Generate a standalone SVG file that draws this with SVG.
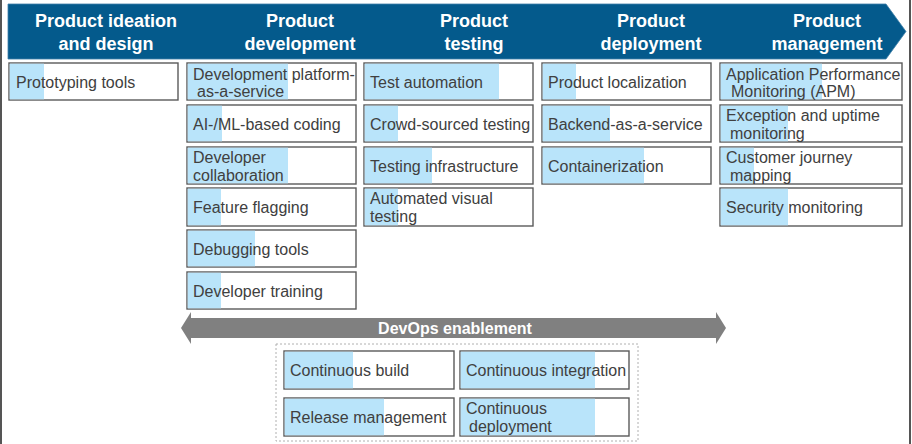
<svg xmlns="http://www.w3.org/2000/svg" width="912" height="444" viewBox="0 0 912 444">
<style>
.hd{font-family:"Liberation Sans",Arial,sans-serif;font-size:18px;font-weight:bold;fill:#ffffff;text-anchor:middle}
.bx{fill:#ffffff;stroke:#5a5a5a;stroke-width:1.4}
.bl{fill:#b9e4fa}
.t{font-family:"Liberation Sans",Arial,sans-serif;font-size:16px;fill:#404040}
.dv{font-family:"Liberation Sans",Arial,sans-serif;font-size:16px;font-weight:bold;fill:#ffffff;text-anchor:middle}
.frame{stroke:#555555;stroke-width:2}
</style>
<rect x="0" y="0" width="912" height="444" fill="#ffffff"/>
<line class="frame" x1="1" y1="0" x2="1" y2="444"/>
<line class="frame" x1="910" y1="0" x2="910" y2="444"/>

<g id="header">
<path d="M8,4 L886,4 L906,31.5 L886,59 L8,59 Z" fill="#045a8c" stroke="#3f7fa8" stroke-width="0.8"/>
<text class="hd" x="106" y="27">Product ideation</text><text class="hd" x="106" y="50">and design</text>
<text class="hd" x="300" y="27">Product</text><text class="hd" x="300" y="50">development</text>
<text class="hd" x="474" y="27">Product</text><text class="hd" x="474" y="50">testing</text>
<text class="hd" x="651" y="27">Product</text><text class="hd" x="651" y="50">deployment</text>
<text class="hd" x="827" y="27">Product</text><text class="hd" x="827" y="50">management</text>
</g>

<!-- Column 1 -->
<g id="prototyping-tools"><rect class="bx" x="9" y="63" width="169" height="37"/><rect class="bl" x="9.7" y="63.7" width="34.3" height="35.6"/><text class="t" x="16" y="88">Prototyping tools</text></g>

<!-- Column 2 -->
<g id="dev-paas"><rect class="bx" x="187" y="63" width="169" height="37"/><rect class="bl" x="187.7" y="63.7" width="100.3" height="35.6"/><text class="t" x="193" y="80">Development platform-</text><text class="t" x="197" y="97">as-a-service</text></g>
<g id="ai-ml-coding"><rect class="bx" x="187" y="105" width="169" height="37"/><rect class="bl" x="187.7" y="105.7" width="34.3" height="35.6"/><text class="t" x="193" y="130">AI-/ML-based coding</text></g>
<g id="dev-collab"><rect class="bx" x="187" y="147" width="169" height="37"/><rect class="bl" x="187.7" y="147.7" width="100.3" height="35.6"/><text class="t" x="193" y="163">Developer</text><text class="t" x="193" y="181">collaboration</text></g>
<g id="feature-flagging"><rect class="bx" x="187" y="188" width="169" height="38"/><rect class="bl" x="187.7" y="188.7" width="33.3" height="36.6"/><text class="t" x="193" y="213">Feature flagging</text></g>
<g id="debugging-tools"><rect class="bx" x="187" y="230" width="169" height="37"/><rect class="bl" x="187.7" y="230.7" width="67.3" height="35.6"/><text class="t" x="193" y="255">Debugging tools</text></g>
<g id="dev-training"><rect class="bx" x="187" y="272" width="169" height="37"/><rect class="bl" x="187.7" y="272.7" width="33.3" height="35.6"/><text class="t" x="193" y="297">Developer training</text></g>

<!-- Column 3 -->
<g id="test-automation"><rect class="bx" x="364" y="63" width="169" height="37"/><rect class="bl" x="364.7" y="63.7" width="134.3" height="35.6"/><text class="t" x="370" y="88">Test automation</text></g>
<g id="crowd-testing"><rect class="bx" x="364" y="105" width="169" height="37"/><rect class="bl" x="364.7" y="105.7" width="33.3" height="35.6"/><text class="t" x="370" y="130">Crowd-sourced testing</text></g>
<g id="testing-infra"><rect class="bx" x="364" y="147" width="169" height="37"/><rect class="bl" x="364.7" y="147.7" width="67.3" height="35.6"/><text class="t" x="370" y="172">Testing infrastructure</text></g>
<g id="visual-testing"><rect class="bx" x="364" y="188" width="169" height="38"/><rect class="bl" x="364.7" y="188.7" width="33.3" height="36.6"/><text class="t" x="370" y="204">Automated visual</text><text class="t" x="370" y="222">testing</text></g>

<!-- Column 4 -->
<g id="localization"><rect class="bx" x="542" y="63" width="169" height="37"/><rect class="bl" x="542.7" y="63.7" width="33.3" height="35.6"/><text class="t" x="548" y="88">Product localization</text></g>
<g id="baas"><rect class="bx" x="542" y="105" width="169" height="37"/><rect class="bl" x="542.7" y="105.7" width="67.3" height="35.6"/><text class="t" x="548" y="130">Backend-as-a-service</text></g>
<g id="containerization"><rect class="bx" x="542" y="147" width="169" height="37"/><rect class="bl" x="542.7" y="147.7" width="101.3" height="35.6"/><text class="t" x="548" y="172">Containerization</text></g>

<!-- Column 5 -->
<g id="apm"><rect class="bx" x="720" y="63" width="182" height="37"/><rect class="bl" x="720.7" y="63.7" width="101.3" height="35.6"/><text class="t" x="726" y="80">Application Performance</text><text class="t" x="731" y="97">Monitoring (APM)</text></g>
<g id="exception-monitoring"><rect class="bx" x="720" y="105" width="182" height="37"/><rect class="bl" x="720.7" y="105.7" width="67.3" height="35.6"/><text class="t" x="726" y="121">Exception and uptime</text><text class="t" x="730" y="139">monitoring</text></g>
<g id="customer-journey"><rect class="bx" x="720" y="147" width="182" height="37"/><rect class="bl" x="720.7" y="147.7" width="33.3" height="35.6"/><text class="t" x="726" y="163">Customer journey</text><text class="t" x="730" y="181">mapping</text></g>
<g id="security-monitoring"><rect class="bx" x="720" y="188" width="182" height="38"/><rect class="bl" x="720.7" y="188.7" width="67.3" height="36.6"/><text class="t" x="726" y="213">Security monitoring</text></g>

<!-- DevOps -->
<g id="connectors">
<path d="M181,328 L191,312 L191,318 L716,318 L716,312 L726,328 L716,344 L716,338 L191,338 L191,344 Z" fill="#808080"/>
</g>
<g id="devops-label"><text class="dv" x="455" y="334">DevOps enablement</text></g>

<g id="devops-group">
<rect x="276" y="344" width="362" height="97" fill="none" stroke="#b0b0b0" stroke-width="1" stroke-dasharray="2,2"/>
</g>
<g id="continuous-build"><rect class="bx" x="284" y="351" width="170" height="38"/><rect class="bl" x="284.7" y="351.7" width="68.3" height="36.6"/><text class="t" x="290" y="376">Continuous build</text></g>
<g id="continuous-integration"><rect class="bx" x="460" y="351" width="169" height="38"/><rect class="bl" x="460.7" y="351.7" width="134.3" height="36.6"/><text class="t" x="466" y="376">Continuous integration</text></g>
<g id="release-management"><rect class="bx" x="284" y="398" width="170" height="38"/><rect class="bl" x="284.7" y="398.7" width="99.3" height="36.6"/><text class="t" x="290" y="423">Release management</text></g>
<g id="continuous-deployment"><rect class="bx" x="460" y="398" width="169" height="38"/><rect class="bl" x="460.7" y="398.7" width="134.3" height="36.6"/><text class="t" x="466" y="414">Continuous</text><text class="t" x="469" y="432">deployment</text></g>
</svg>
